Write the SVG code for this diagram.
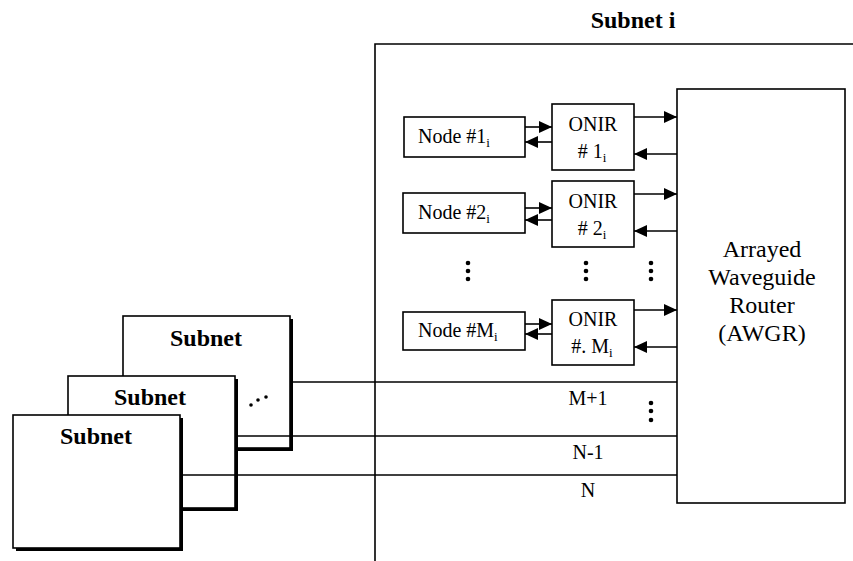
<svg xmlns="http://www.w3.org/2000/svg" width="853" height="561" viewBox="0 0 853 561">
<style>
.box{fill:#fff;stroke:#000;stroke-width:1.6}
.ln{stroke:#000;stroke-width:1.6;fill:none}
.t{font-family:'Liberation Serif','Times New Roman','DejaVu Serif',serif;font-size:20px;fill:#000}
.tb{font-family:'Liberation Serif','Times New Roman','DejaVu Serif',serif;font-size:24px;font-weight:bold;fill:#000}
.ta{font-family:'Liberation Serif','Times New Roman','DejaVu Serif',serif;font-size:24px;fill:#000}
.sub{font-size:13px}
</style>
<defs>
<marker id="ah" markerWidth="13" markerHeight="12" refX="13" refY="6" orient="auto" markerUnits="userSpaceOnUse">
<path d="M0,0 L13,6 L0,12 Z" fill="#000"/>
</marker>
</defs>
<rect width="853" height="561" fill="#fff"/>
<g id="subnet-i">
<text class="tb" x="633" y="28" text-anchor="middle">Subnet i</text>
<path class="ln" d="M375,561 V44 H853"/>
</g>
<g id="subnet-back">
<rect x="126" y="319" width="167" height="132" fill="#000"/>
<rect class="box" x="123" y="316" width="167" height="132"/>
<text class="tb" x="206" y="346" text-anchor="middle">Subnet</text>
<circle cx="251" cy="405" r="1.8"/><circle cx="258" cy="400" r="1.8"/><circle cx="266" cy="397" r="1.8"/>
</g>
<g id="subnet-mid">
<rect x="71" y="379" width="167" height="132" fill="#000"/>
<rect class="box" x="68" y="376" width="167" height="132"/>
<text class="tb" x="150" y="405" text-anchor="middle">Subnet</text>
</g>
<g id="subnet-front">
<rect x="16" y="418" width="167" height="133" fill="#000"/>
<rect class="box" x="13" y="415" width="167" height="133"/>
<text class="tb" x="96" y="444" text-anchor="middle">Subnet</text>
</g>
<g id="awgr">
<rect class="box" x="677" y="89" width="168" height="414"/>
<text class="ta" x="762" y="257" text-anchor="middle">Arrayed</text>
<text class="ta" x="762" y="285" text-anchor="middle">Waveguide</text>
<text class="ta" x="762" y="313" text-anchor="middle">Router</text>
<text class="ta" x="762" y="341" text-anchor="middle">(AWGR)</text>
</g>
<g id="node1">
<rect class="box" x="404" y="117" width="121" height="40"/>
<text class="t" x="418" y="143">Node #1<tspan class="sub" dy="4">i</tspan></text>
</g>
<g id="onir1">
<rect class="box" x="552" y="104" width="82" height="66"/>
<text class="t" x="593" y="131" text-anchor="middle">ONIR</text>
<text class="t" x="592" y="158" text-anchor="middle"># 1<tspan class="sub" dy="4">i</tspan></text>
</g>
<g id="node2">
<rect class="box" x="403" y="193" width="122" height="40"/>
<text class="t" x="418" y="219">Node #2<tspan class="sub" dy="4">i</tspan></text>
</g>
<g id="onir2">
<rect class="box" x="552" y="181" width="82" height="66"/>
<text class="t" x="593" y="208" text-anchor="middle">ONIR</text>
<text class="t" x="592" y="235" text-anchor="middle"># 2<tspan class="sub" dy="4">i</tspan></text>
</g>
<g id="nodeM">
<rect class="box" x="403" y="312" width="122" height="38"/>
<text class="t" x="418" y="337">Node #M<tspan class="sub" dy="4">i</tspan></text>
</g>
<g id="onirM">
<rect class="box" x="552" y="300" width="82" height="65"/>
<text class="t" x="593" y="326" text-anchor="middle">ONIR</text>
<text class="t" x="592" y="353" text-anchor="middle">#. M<tspan class="sub" dy="4">i</tspan></text>
</g>
<g id="dots">
<circle cx="468" cy="263" r="2.3"/><circle cx="468" cy="271" r="2.3"/><circle cx="468" cy="279" r="2.3"/>
<circle cx="586" cy="263" r="2.3"/><circle cx="586" cy="271" r="2.3"/><circle cx="586" cy="279" r="2.3"/>
<circle cx="651" cy="263" r="2.3"/><circle cx="651" cy="271" r="2.3"/><circle cx="651" cy="279" r="2.3"/>
<circle cx="651" cy="403" r="2.3"/><circle cx="651" cy="411" r="2.3"/><circle cx="651" cy="420" r="2.3"/>
</g>
<g id="connectors">
<line class="ln" x1="525" y1="127" x2="552" y2="127" marker-end="url(#ah)"/>
<line class="ln" x1="552" y1="142" x2="525" y2="142" marker-end="url(#ah)"/>
<line class="ln" x1="634" y1="117" x2="677" y2="117" marker-end="url(#ah)"/>
<line class="ln" x1="677" y1="154" x2="634" y2="154" marker-end="url(#ah)"/>
<line class="ln" x1="525" y1="208" x2="552" y2="208" marker-end="url(#ah)"/>
<line class="ln" x1="552" y1="220" x2="525" y2="220" marker-end="url(#ah)"/>
<line class="ln" x1="634" y1="194" x2="677" y2="194" marker-end="url(#ah)"/>
<line class="ln" x1="677" y1="231" x2="634" y2="231" marker-end="url(#ah)"/>
<line class="ln" x1="525" y1="324" x2="552" y2="324" marker-end="url(#ah)"/>
<line class="ln" x1="552" y1="334" x2="525" y2="334" marker-end="url(#ah)"/>
<line class="ln" x1="634" y1="310" x2="677" y2="310" marker-end="url(#ah)"/>
<line class="ln" x1="677" y1="347" x2="634" y2="347" marker-end="url(#ah)"/>
<line class="ln" x1="293" y1="382" x2="677" y2="382"/>
<line class="ln" x1="238" y1="436" x2="677" y2="436"/>
<line class="ln" x1="183" y1="475" x2="677" y2="475"/>
<text class="t" x="588" y="405" text-anchor="middle">M+1</text>
<text class="t" x="588" y="459" text-anchor="middle">N-1</text>
<text class="t" x="588" y="497" text-anchor="middle">N</text>
</g>
</svg>
